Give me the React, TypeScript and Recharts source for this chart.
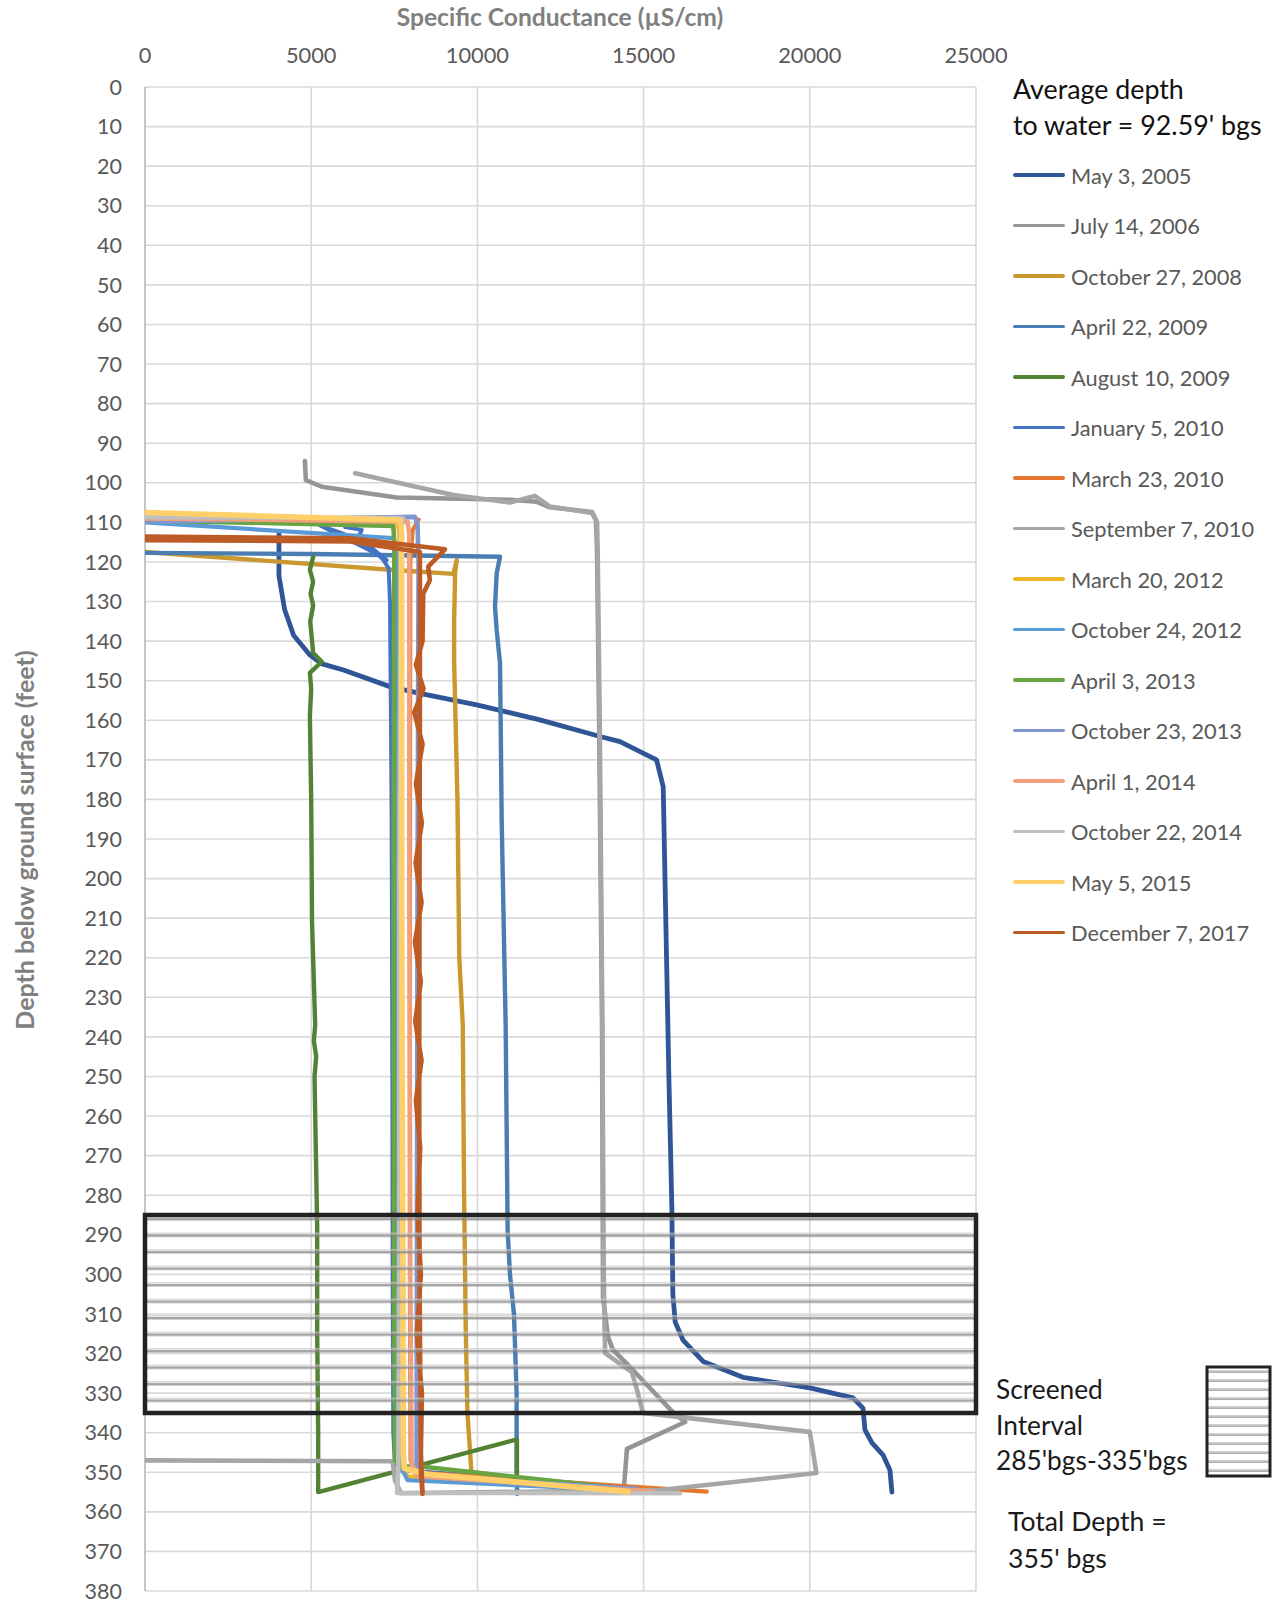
import { ScatterChart, Scatter, XAxis, YAxis, CartesianGrid, ReferenceArea } from "recharts";

// conductance (uS/cm), depth (ft below ground surface)
type P = [number, number];

const may2005: P[] = [
  [4030, 113], [4030, 123.5], [4200, 132], [4470, 138.5], [4960, 143.5], [5300, 145.7], [5970, 147.3],
  [7370, 151.5], [8270, 153.2], [9980, 156.1], [11880, 159.9], [13690, 164.1], [14290, 165.4], [15390, 170],
  [15590, 176.8], [15690, 220], [15760, 250], [15850, 283], [15880, 305], [15950, 312], [16185, 316.6],
  [16790, 322], [17990, 326], [20000, 328.7], [21300, 331.2], [21600, 333.8], [21660, 339.3], [21870, 342.6],
  [22200, 345.6], [22410, 349.4], [22470, 355],
];
const jul2006: P[] = [
  [4810, 94.5], [4840, 99.3], [5320, 101], [7570, 103.7], [10980, 104.3], [11790, 104.8], [12180, 106.2],
  [13450, 107.4], [13570, 109.5], [13600, 117.5], [13660, 159], [13750, 237], [13780, 306], [13930, 315.8],
  [14080, 319.1], [14590, 323.4], [15190, 328.7], [15880, 334.8], [16250, 337.3], [14500, 344.1], [14410, 353.7],
];
const oct2008: P[] = [
  [0, 117.5], [7270, 121.9], [9280, 123], [9380, 119.5], [9330, 122.5], [9300, 135], [9300, 145], [9400, 180],
  [9455, 220], [9560, 237], [9600, 280], [9650, 314], [9700, 335], [9740, 340], [9820, 350], [14500, 354.8],
];
const apr2009: P[] = [
  [0, 117.7], [5000, 118], [10680, 118.7], [10580, 122.9], [10530, 131.3], [10580, 137.2], [10680, 145.5],
  [10700, 160], [10730, 185], [10850, 237], [10910, 289], [10980, 300], [11100, 310], [11180, 330],
  [11180, 341.4], [11180, 351.6], [11200, 355.5],
];
const aug2009: P[] = [
  [5060, 118.7], [4960, 122], [5060, 125], [4980, 128], [5060, 131], [4970, 135], [5060, 143], [5320, 145.2],
  [4960, 148], [5000, 152], [4960, 159], [5000, 180], [5025, 211], [5120, 237], [5080, 241], [5150, 245],
  [5100, 250], [5180, 288], [5180, 314.5], [5210, 340], [5210, 355], [11190, 341.7], [11190, 351],
];
const jan2010: P[] = [
  [6020, 111.2], [6520, 111.9], [6420, 113.8], [7270, 119.5], [7100, 118.5], [5270, 110.8], [6000, 113],
  [6700, 115.5], [7170, 119.5], [7330, 121.6], [7370, 130], [7400, 160], [7420, 185], [7440, 240], [7450, 300],
  [7470, 340], [7520, 348], [7800, 349.5], [14590, 353.8],
];
const mar2010: P[] = [
  [8230, 109.3], [8050, 112], [7980, 120], [7970, 200], [7970, 300], [7990, 347], [8100, 350], [16900, 354.9],
];
const sep2010: P[] = [
  [6320, 97.6], [9275, 103.1], [10980, 105], [11730, 103.3], [12180, 106], [13450, 107.6], [13600, 110],
  [13620, 118], [13680, 160], [13760, 237], [13800, 300], [13840, 319.9], [14650, 324.7], [14800, 329.2],
  [14980, 335], [20000, 339.8], [20200, 350.2], [15500, 354.5], [7700, 355.3], [7520, 352], [7450, 347.2], [0, 347],
];
const mar2012: P[] = [
  [0, 108], [7600, 110], [7650, 113], [7680, 200], [7700, 300], [7700, 348], [7900, 351], [14400, 354.9],
];
const oct2012: P[] = [
  [0, 110], [7470, 114], [7560, 118], [7600, 200], [7620, 300], [7650, 348], [7900, 352], [14500, 354.6],
];
const apr2013: P[] = [
  [0, 109.5], [7470, 110.9], [7500, 115], [7480, 200], [7500, 300], [7520, 347], [7700, 348.5], [8370, 348.6],
  [14590, 354.3],
];
const oct2013: P[] = [
  [0, 109.8], [8120, 108.6], [8200, 110.5], [8230, 120], [8200, 200], [8180, 300], [8170, 348], [8250, 351],
  [14800, 354.2],
];
const apr2014: P[] = [
  [0, 109], [7900, 109.8], [7950, 113], [7950, 200], [7980, 300], [8020, 348], [8200, 351], [15280, 354.9],
];
const oct2014: P[] = [
  [0, 108.7], [7760, 108.9], [7700, 112], [7650, 200], [7650, 300], [7620, 350], [7580, 355.2], [16100, 355.3],
];
const may2015: P[] = [
  [0, 107.5], [7670, 109.4], [7720, 112], [7720, 200], [7760, 300], [7770, 345], [7800, 349], [8500, 350.5],
  [14530, 354.9],
];
const dec2017: P[] = [
  [0, 113.6], [6170, 114], [9025, 116.8], [8520, 121.2], [8570, 124.6], [8370, 128], [8350, 140], [8150, 146],
  [8380, 152], [8100, 158], [8350, 166], [8150, 176], [8330, 186], [8140, 196], [8320, 206], [8120, 216],
  [8300, 226], [8130, 236], [8320, 246], [8150, 256], [8280, 268], [8200, 285], [8300, 300], [8180, 315],
  [8330, 330], [8300, 345], [8350, 355.5], [8300, 350], [8260, 300], [8250, 250], [8260, 200], [8270, 150],
  [8270, 117.5], [6170, 114.8], [0, 114.5],
];

const conductanceTicks = [0, 5000, 10000, 15000, 20000, 25000];
const depthTicks = [
  0, 10, 20, 30, 40, 50, 60, 70, 80, 90, 100, 110, 120, 130, 140, 150, 160, 170, 180, 190,
  200, 210, 220, 230, 240, 250, 260, 270, 280, 290, 300, 310, 320, 330, 340, 350, 360, 370, 380,
];

const series = [
  { name: "May 3, 2005", color: "#2F5597", width: 4.8, data: may2005 },
  { name: "July 14, 2006", color: "#959595", width: 4.6, data: jul2006 },
  { name: "October 27, 2008", color: "#C9982E", width: 4.4, data: oct2008 },
  { name: "April 22, 2009", color: "#4A7EB3", width: 4.4, data: apr2009 },
  { name: "August 10, 2009", color: "#548235", width: 4.4, data: aug2009 },
  { name: "January 5, 2010", color: "#4472C4", width: 4, data: jan2010 },
  { name: "March 23, 2010", color: "#E5772F", width: 4.2, data: mar2010 },
  { name: "September 7, 2010", color: "#A6A6A6", width: 4.6, data: sep2010 },
  { name: "March 20, 2012", color: "#F0B429", width: 4.2, data: mar2012 },
  { name: "October 24, 2012", color: "#5B9BD5", width: 4.2, data: oct2012 },
  { name: "April 3, 2013", color: "#6AA543", width: 4.6, data: apr2013 },
  { name: "October 23, 2013", color: "#7F96D0", width: 4.6, data: oct2013 },
  { name: "April 1, 2014", color: "#F0A07A", width: 4.6, data: apr2014 },
  { name: "October 22, 2014", color: "#BFBFBF", width: 4.6, data: oct2014 },
  { name: "May 5, 2015", color: "#FFCF6A", width: 5.6, data: may2015 },
  { name: "December 7, 2017", color: "#BC5B26", width: 4.6, data: dec2017 },
];

const FONT = "Lato, 'Liberation Sans', sans-serif";
const GREY_TEXT = "#595959";

const noDot = () => <g />;

export default function App() {
  return (
    <div style={{ position: "absolute", left: 0, top: 0, width: 1275, height: 1606, fontFamily: FONT, background: "#fff" }}>
      <ScatterChart width={1275} height={1606} margin={{ top: 0, right: 299, bottom: 15, left: 0 }}>
        <defs>
          <pattern id="screenStripes" patternUnits="userSpaceOnUse" width={10} height={16.5}>
            <rect x={0} y={11.8} width={10} height={1.3} fill="#c8c8c8" fillOpacity={0.9} />
            <rect x={0} y={13.6} width={10} height={2.4} fill="#858585" fillOpacity={0.75} />
          </pattern>
        </defs>
        <CartesianGrid stroke="#D9D9D9" strokeWidth={1.6} />
        <XAxis
          type="number"
          dataKey="sc"
          orientation="top"
          height={87}
          domain={[0, 25000]}
          ticks={conductanceTicks}
          interval={0}
          axisLine={false}
          tickLine={false}
          tickMargin={18}
          tick={{ fill: GREY_TEXT, fontSize: 21.8, fontFamily: FONT }}
          allowDataOverflow
        />
        <YAxis
          type="number"
          dataKey="depth"
          reversed
          width={145}
          domain={[0, 380]}
          ticks={depthTicks}
          interval={0}
          axisLine={{ stroke: "#BFBFBF", strokeWidth: 1.6 }}
          tickLine={false}
          tickMargin={17}
          tick={{ fill: GREY_TEXT, fontSize: 21.5, fontFamily: FONT }}
          allowDataOverflow
        />
        {series.map((s) => (
          <Scatter
            key={s.name}
            name={s.name}
            data={s.data.map(([sc, depth]) => ({ sc, depth }))}
            fill={s.color}
            stroke={s.color}
            strokeWidth={s.width}
            shape={noDot}
            line={{ stroke: s.color, strokeWidth: s.width, strokeLinejoin: "round", strokeLinecap: "round" }}
            lineType="joint"
            isAnimationActive={false}
          />
        ))}
        <ReferenceArea
          x1={0}
          x2={25000}
          y1={285}
          y2={335}
          fill="url(#screenStripes)"
          fillOpacity={1}
          stroke="#222"
          strokeWidth={4.5}
          zIndex={1000}
        />
      </ScatterChart>

      <div style={{ position: "absolute", left: 310, top: 2, width: 500, textAlign: "center", fontSize: 24.6, fontWeight: 700, color: "#808080" }}>
        Specific Conductance (µS/cm)
      </div>
      <div
        style={{
          position: "absolute", left: 24, top: 840, width: 500, textAlign: "center", fontSize: 25, fontWeight: 700,
          color: "#808080", transform: "translate(-50%, -50%) rotate(-90deg)", whiteSpace: "nowrap",
        }}
      >
        Depth below ground surface (feet)
      </div>

      <div style={{ position: "absolute", left: 1013, top: 71, fontSize: 26.8, lineHeight: "36px", color: "#111" }}>
        Average depth
        <br />
        to water = 92.59' bgs
      </div>

      {series.map((s, i) => (
        <div key={s.name} style={{ position: "absolute", left: 1013, top: 175 + i * 50.5 - 14, height: 28, display: "flex", alignItems: "center" }}>
          <div style={{ width: 52, height: 3.8, background: s.color, borderRadius: 2 }} />
          <span style={{ marginLeft: 6, fontSize: 21.8, color: GREY_TEXT, whiteSpace: "nowrap" }}>{s.name}</span>
        </div>
      ))}

      <div style={{ position: "absolute", left: 996, top: 1372, fontSize: 26.3, lineHeight: "35.5px", color: "#1a1a1a" }}>
        Screened
        <br />
        Interval
        <br />
        285'bgs-335'bgs
      </div>
      <svg style={{ position: "absolute", left: 1205, top: 1365 }} width={68} height={114}>
        <defs>
          <pattern id="legendStripes" patternUnits="userSpaceOnUse" width={10} height={9}>
            <rect x={0} y={5} width={10} height={1} fill="#d0d0d0" />
            <rect x={0} y={6.3} width={10} height={1.6} fill="#a8a8a8" />
          </pattern>
        </defs>
        <rect x={2} y={2} width={63} height={109} fill="url(#legendStripes)" stroke="#222" strokeWidth={3} />
      </svg>
      <div style={{ position: "absolute", left: 1008, top: 1503, fontSize: 26.6, lineHeight: "36.5px", color: "#1a1a1a" }}>
        Total Depth =
        <br />
        355' bgs
      </div>
    </div>
  );
}
